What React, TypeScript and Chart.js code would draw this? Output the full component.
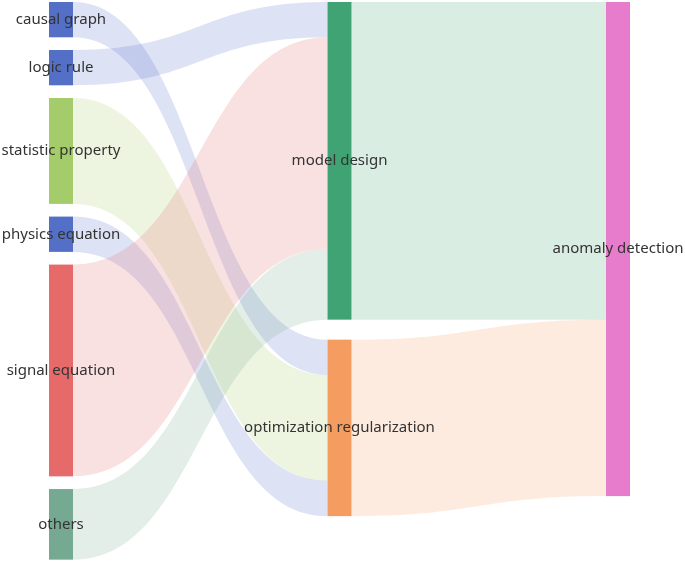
import React, { useEffect, useRef } from "react";
import { Chart, registerables } from "chart.js";
Chart.register(...registerables);

const nodeNames = [
  "causal graph",
  "logic rule",
  "statistic property",
  "physics equation",
  "signal equation",
  "others",
  "model design",
  "optimization regularization",
  "anomaly detection",
];
const nodeColumns = [0, 0, 0, 0, 0, 0, 1, 1, 2];
const nodeColors = [
  "#5470c6",
  "#5470c6",
  "#a5cc6a",
  "#5470c6",
  "#e66a6a",
  "#76a992",
  "#40a374",
  "#f59c60",
  "#e87ccc",
];
const linkSources = [
  "causal graph",
  "logic rule",
  "statistic property",
  "physics equation",
  "signal equation",
  "others",
  "model design",
  "optimization regularization",
];
const linkTargets = [
  "optimization regularization",
  "model design",
  "optimization regularization",
  "optimization regularization",
  "model design",
  "model design",
  "anomaly detection",
  "anomaly detection",
];
const linkValues = [1, 1, 3, 1, 6, 2, 9, 5];

const columnGaps = [0.36, 0.567, 0];
const NODE_WIDTH = 24;

const sankeyPlugin = {
  id: "sankeyDraw",
  afterDatasetsDraw(chart: any) {
    const ctx = chart.ctx;
    const xs = chart.scales.x;
    const ys = chart.scales.y;
    const n = nodeNames.length;
    const inSum = new Array(n).fill(0);
    const outSum = new Array(n).fill(0);
    const links = linkValues.map((v, i) => ({
      s: nodeNames.indexOf(linkSources[i]),
      t: nodeNames.indexOf(linkTargets[i]),
      v,
    }));
    links.forEach((l) => {
      outSum[l.s] += l.v;
      inSum[l.t] += l.v;
    });
    const value = nodeNames.map((_, i) => Math.max(inSum[i], outSum[i]));
    const y0 = new Array(n).fill(0);
    const colCursor: Record<number, number> = {};
    nodeNames.forEach((_, i) => {
      const c = nodeColumns[i];
      const cur = colCursor[c] ?? 0;
      y0[i] = cur;
      colCursor[c] = cur + value[i] + columnGaps[c];
    });
    const nodeX = (i: number) => xs.getPixelForValue(nodeColumns[i]);
    const py = (v: number) => ys.getPixelForValue(v);

    const outOff = new Array(n).fill(0);
    const inOff = new Array(n).fill(0);
    const bySourceOrder = links.map((l, i) => i).sort((a, b) => y0[links[a].t] - y0[links[b].t]);
    const sStart: number[] = [];
    bySourceOrder.forEach((i) => {
      const l = links[i];
      sStart[i] = y0[l.s] + outOff[l.s];
      outOff[l.s] += l.v;
    });
    const byTargetOrder = links.map((l, i) => i).sort((a, b) => y0[links[a].s] - y0[links[b].s]);
    const tStart: number[] = [];
    byTargetOrder.forEach((i) => {
      const l = links[i];
      tStart[i] = y0[l.t] + inOff[l.t];
      inOff[l.t] += l.v;
    });

    ctx.save();
    links.forEach((l, i) => {
      const x1 = nodeX(l.s) + NODE_WIDTH;
      const x2 = nodeX(l.t);
      const sy1 = py(sStart[i]);
      const sy2 = py(sStart[i] + l.v);
      const ty1 = py(tStart[i]);
      const ty2 = py(tStart[i] + l.v);
      const cx = (x1 + x2) / 2;
      ctx.beginPath();
      ctx.moveTo(x1, sy1);
      ctx.bezierCurveTo(cx, sy1, cx, ty1, x2, ty1);
      ctx.lineTo(x2, ty2);
      ctx.bezierCurveTo(cx, ty2, cx, sy2, x1, sy2);
      ctx.closePath();
      ctx.globalAlpha = 0.2;
      ctx.fillStyle = nodeColors[l.s];
      ctx.fill();
    });
    ctx.globalAlpha = 1;
    nodeNames.forEach((_, i) => {
      const x = nodeX(i);
      const top = py(y0[i]);
      const bottom = py(y0[i] + value[i]);
      ctx.fillStyle = nodeColors[i];
      ctx.fillRect(x, top, NODE_WIDTH, bottom - top);
    });
    ctx.fillStyle = "#333333";
    ctx.font = '15px "Noto Sans", "DejaVu Sans", sans-serif';
    ctx.textAlign = "center";
    ctx.textBaseline = "middle";
    nodeNames.forEach((name, i) => {
      const x = nodeX(i) + NODE_WIDTH / 2;
      const yc = py(y0[i] + value[i] / 2);
      ctx.fillText(name, x, yc);
    });
    ctx.restore();
  },
};

export default function App() {
  const ref = useRef<HTMLCanvasElement>(null);
  useEffect(() => {
    if (!ref.current) return;
    const chart = new Chart(ref.current, {
      type: "scatter",
      data: { datasets: [] },
      options: {
        animation: false,
        responsive: false,
        layout: { padding: { left: 49, right: 79, top: 2, bottom: 3 } },
        plugins: { legend: { display: false }, tooltip: { enabled: false } },
        scales: {
          x: { type: "linear", min: 0, max: 2, display: false },
          y: { type: "linear", min: 0, max: 15.81, reverse: true, display: false },
        },
      },
      plugins: [sankeyPlugin],
    });
    return () => chart.destroy();
  }, []);
  return (
    <div style={{ position: "absolute", left: 0, top: 0, width: 685, height: 563, background: "#fff" }}>
      <canvas ref={ref} width={685} height={563} style={{ display: "block" }} />
    </div>
  );
}
